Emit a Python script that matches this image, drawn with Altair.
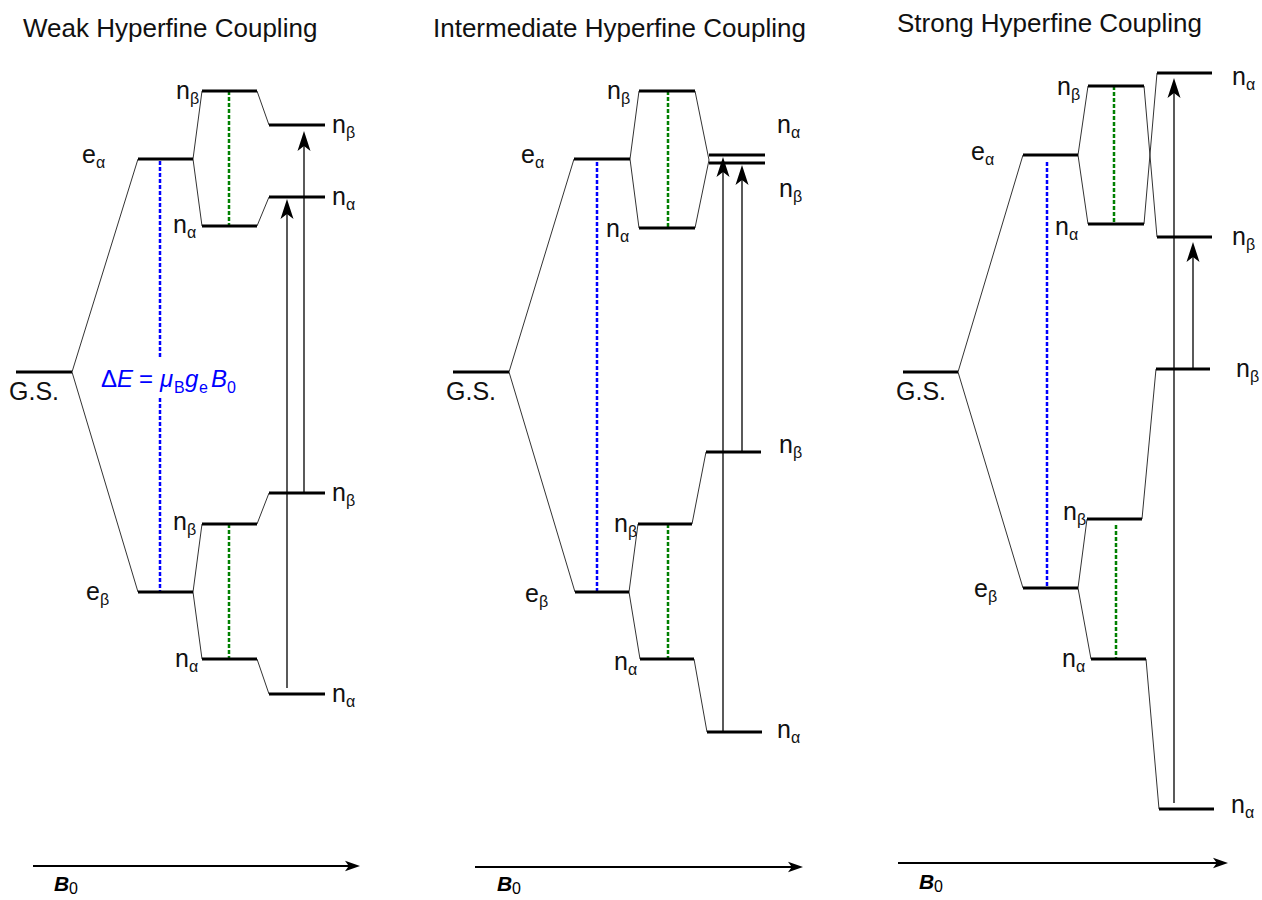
import altair as alt
import pandas as pd

W, H = 1262, 900
FONT = "Liberation Sans"

# ---- titles ----
titles = ["Weak Hyperfine Coupling", "Intermediate Hyperfine Coupling", "Strong Hyperfine Coupling"]
title_x = [23, 433, 897]
title_y = [37, 37, 32]

# ---- energy levels (thick horizontal bars), diagram coordinates ----
lev_x1 = [16, 138, 138, 202, 202, 202, 202, 269, 269, 269, 269,
          453, 574, 575, 639, 639, 638, 640, 709, 709, 706, 707,
          903, 1023, 1023, 1088, 1088, 1087, 1091, 1157, 1157, 1156, 1159]
lev_x2 = [72, 193, 193, 257, 257, 257, 257, 325, 325, 325, 325,
          509, 630, 629, 695, 695, 692, 694, 765, 765, 761, 762,
          958, 1078, 1078, 1144, 1144, 1142, 1146, 1212, 1212, 1210, 1214]
lev_y = [372, 159, 592, 91, 226, 524, 659, 125, 197, 493, 694,
         372, 159, 592, 91, 228, 524, 659, 155, 163, 452, 732,
         372, 155, 588, 86, 224, 519, 659, 73, 237, 369, 809]

# ---- thin correlation lines ----
con_x1 = [72, 72, 193, 193, 193, 193, 257, 257, 257, 257,
          509, 509, 630, 630, 629, 629, 695, 695, 692, 694,
          958, 958, 1078, 1078, 1078, 1078, 1144, 1144, 1142, 1146]
con_y1 = [372, 372, 159, 159, 592, 592, 91, 226, 524, 659,
          372, 372, 159, 159, 592, 592, 91, 228, 524, 659,
          372, 372, 155, 155, 588, 588, 86, 224, 519, 659]
con_x2 = [138, 138, 202, 202, 202, 202, 269, 269, 269, 269,
          574, 575, 639, 639, 638, 640, 709, 709, 706, 707,
          1023, 1023, 1088, 1088, 1087, 1091, 1157, 1157, 1156, 1159]
con_y2 = [159, 592, 91, 226, 524, 659, 125, 197, 493, 694,
          159, 592, 91, 228, 524, 659, 160, 160, 452, 732,
          155, 588, 86, 224, 519, 659, 237, 73, 369, 809]

# ---- dashed splittings ----
blue_x = [160, 160, 597, 1047]
blue_y1 = [161, 398, 162, 162]
blue_y2 = [357, 592, 592, 588]
green_x = [229, 229, 668, 668, 1114, 1116]
green_y1 = [91, 524, 91, 524, 86, 525]
green_y2 = [226, 659, 228, 659, 224, 659]

# ---- transition arrows ----
arr_x = [287, 304, 723, 742, 1174, 1193]
arr_from = [688, 493, 732, 452, 803, 369]
arr_tip = [199, 131, 157, 165, 78, 242]

# ---- B0 field arrows ----
b_x1 = [33, 475, 898]
b_x2 = [360, 803, 1228]
b_y = [866, 867, 863]
b_lab_x = [54, 497, 919]
b_lab_y = [891, 891, 889]

# ---- level labels: main letter, subscript, x, baseline ----
lab_main = ["n", "n", "e", "G.S.", "e", "n", "n", "n", "n", "n", "n",
            "n", "n", "e", "G.S.", "e", "n", "n", "n", "n", "n", "n",
            "n", "n", "e", "G.S.", "e", "n", "n", "n", "n", "n", "n"]
lab_sub = ["β", "α", "α", "", "β", "β", "α", "β", "α", "β", "α",
           "β", "α", "α", "", "β", "β", "α", "α", "β", "β", "α",
           "β", "α", "α", "", "β", "β", "α", "α", "β", "β", "α"]
lab_x = [176, 173, 82, 9, 86, 173, 175, 332, 332, 332, 332,
         607, 606, 521, 446, 525, 614, 614, 777, 779, 779, 777,
         1057, 1055, 971, 896, 974, 1063, 1062, 1232, 1232, 1236, 1231]
lab_y = [99, 233, 163, 400, 600, 530, 667, 133, 205, 501, 702,
         99, 237, 163, 400, 602, 532, 670, 133, 197, 453, 738,
         95, 235, 160, 400, 597, 520, 667, 85, 245, 377, 813]

# ---- Zeeman formula pieces ----
f_text = ["Δ", "E", "=", "μ", "B", "g", "e", "B", "0"]
f_x = [101, 117, 139, 160, 174, 185, 199, 211, 227]
f_kind = ["up", "it", "up", "it", "sub", "it", "sub", "it", "sub"]
f_y_main = 387
f_y_sub = 393

# ---------------- build tables ----------------
levels = pd.DataFrame({"x1": lev_x1, "x2": lev_x2, "y": lev_y})
cons = pd.DataFrame({"x1": con_x1, "y1": con_y1, "x2": con_x2, "y2": con_y2})
blue = pd.DataFrame({"x": blue_x, "y1": blue_y1, "y2": blue_y2})
green = pd.DataFrame({"x": green_x, "y1": green_y1, "y2": green_y2})
HEAD_R = 10
arrows = pd.DataFrame({"x": arr_x, "y1": arr_from, "tip": arr_tip})
arrows["y2"] = arrows["tip"] + HEAD_R
arrows["hy"] = arrows["tip"] + HEAD_R
bfield = pd.DataFrame({"x1": b_x1, "x2": b_x2, "y": b_y})
HH_R = 7.5
bfield["hx"] = bfield["x2"] - HH_R
blab = pd.DataFrame({"x": b_lab_x, "y": b_lab_y, "t": ["B"] * 3, "s": ["0"] * 3})
labels = pd.DataFrame({"x": lab_x, "y": lab_y, "m": lab_main, "s": lab_sub})
tdf = pd.DataFrame({"x": title_x, "y": title_y, "t": titles})
form = pd.DataFrame({"x": f_x, "t": f_text, "k": f_kind})
form["y"] = [f_y_sub if k == "sub" else f_y_main for k in f_kind]

xs = alt.Scale(domain=[0, W], nice=False, zero=False)
ys = alt.Scale(domain=[0, H], nice=False, zero=False, reverse=True)


def X(f):
    return alt.X(f, type="quantitative", scale=xs, axis=None)


def Y(f):
    return alt.Y(f, type="quantitative", scale=ys, axis=None)


lev_layer = alt.Chart(levels).mark_rule(color="black", strokeWidth=3).encode(
    x=X("x1"), x2="x2", y=Y("y"))
con_layer = alt.Chart(cons).mark_rule(color="#333333", strokeWidth=1).encode(
    x=X("x1"), y=Y("y1"), x2="x2", y2="y2")
blue_layer = alt.Chart(blue).mark_rule(color="#0000ff", strokeWidth=2.5, strokeDash=[4, 2]).encode(
    x=X("x"), y=Y("y1"), y2="y2")
green_layer = alt.Chart(green).mark_rule(color="#008000", strokeWidth=2.5, strokeDash=[4, 2]).encode(
    x=X("x"), y=Y("y1"), y2="y2")
shaft_layer = alt.Chart(arrows).mark_rule(color="black", strokeWidth=1.3).encode(
    x=X("x"), y=Y("y1"), y2="y2")
UP = "M0,-1L0.65,1L0,0.5L-0.65,1Z"
head_layer = alt.Chart(arrows).mark_point(
    shape=UP, filled=True, color="black", opacity=1, strokeWidth=0, size=(2 * HEAD_R) ** 2
).encode(x=X("x"), y=Y("hy"))
bline_layer = alt.Chart(bfield).mark_rule(color="black", strokeWidth=2).encode(
    x=X("x1"), x2="hx", y=Y("y"))
RIGHT = "M1,0L-1,0.7L-0.5,0L-1,-0.7Z"
bhead_layer = alt.Chart(bfield).mark_point(
    shape=RIGHT, filled=True, color="black", opacity=1, strokeWidth=0, size=(2 * HH_R) ** 2
).encode(x=X("hx"), y=Y("y"))
blab_main = alt.Chart(blab).mark_text(
    align="left", baseline="alphabetic", font=FONT, fontSize=21, fontWeight="bold",
    fontStyle="italic", color="black").encode(x=X("x"), y=Y("y"), text="t:N")
blab_sub = alt.Chart(blab).mark_text(
    align="left", baseline="alphabetic", font=FONT, fontSize=16, color="black", dx=15, dy=3
).encode(x=X("x"), y=Y("y"), text="s:N")
title_layer = alt.Chart(tdf).mark_text(
    align="left", baseline="alphabetic", font=FONT, fontSize=26, color="#111111"
).encode(x=X("x"), y=Y("y"), text="t:N")
lab_main_layer = alt.Chart(labels).mark_text(
    align="left", baseline="alphabetic", font=FONT, fontSize=25, color="#111111"
).encode(x=X("x"), y=Y("y"), text="m:N")
lab_sub_layer = alt.Chart(labels).mark_text(
    align="left", baseline="alphabetic", font=FONT, fontSize=16, color="#111111", dx=14, dy=5
).encode(x=X("x"), y=Y("y"), text="s:N")
f_up = alt.Chart(form).transform_filter(alt.datum.k == "up").mark_text(
    align="left", baseline="alphabetic", font=FONT, fontSize=24, color="#0000ff"
).encode(x=X("x"), y=Y("y"), text="t:N")
f_it = alt.Chart(form).transform_filter(alt.datum.k == "it").mark_text(
    align="left", baseline="alphabetic", font=FONT, fontSize=24, fontStyle="italic", color="#0000ff"
).encode(x=X("x"), y=Y("y"), text="t:N")
f_sub = alt.Chart(form).transform_filter(alt.datum.k == "sub").mark_text(
    align="left", baseline="alphabetic", font=FONT, fontSize=16, color="#0000ff"
).encode(x=X("x"), y=Y("y"), text="t:N")

chart = alt.layer(
    con_layer, blue_layer, green_layer, lev_layer, shaft_layer, head_layer,
    bline_layer, bhead_layer, blab_main, blab_sub, title_layer,
    lab_main_layer, lab_sub_layer, f_up, f_it, f_sub
).properties(
    width=W, height=H, autosize=alt.AutoSizeParams(type="none"), padding=0, background="white"
).configure_view(stroke=None)

chart.save("out.html", embed_options={"renderer": "svg", "actions": False})
